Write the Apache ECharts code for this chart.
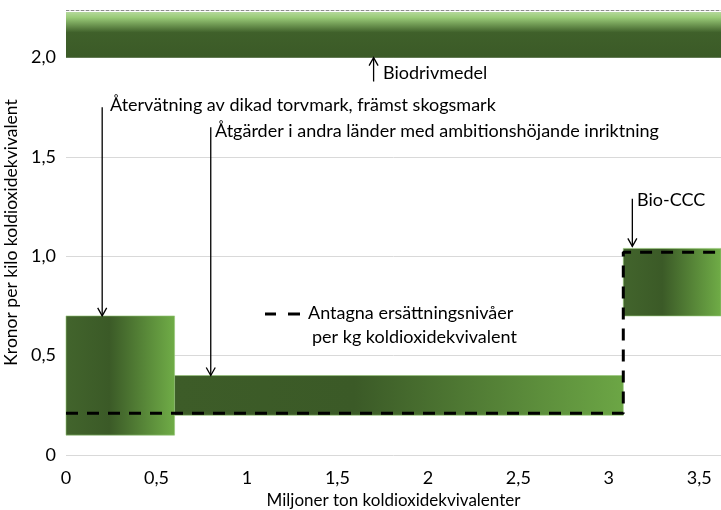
<!DOCTYPE html>
<html><head><meta charset="utf-8">
<script src="https://cdn.jsdelivr.net/npm/echarts@6/dist/echarts.min.js"></script>
<style>html,body{margin:0;padding:0;background:#fff}#c{width:721px;height:510px}</style>
</head><body><div id="c"></div>
<script>
// Data
const blockNames = ['Återvätning av dikad torvmark, främst skogsmark', 'Åtgärder i andra länder med ambitionshöjande inriktning', 'Bio-CCC'];
const blockStart = [0, 0.6, 3.08];
const blockEnd = [0.6, 3.08, 3.62];
const blockLow = [0.1, 0.2, 0.7];
const blockHigh = [0.7, 0.4, 1.04];
const bioStart = 0, bioEnd = 3.62, bioLow = 2.0, bioHigh = 2.23;
const levelX = [0, 3.08, 3.08, 3.62];
const levelY = [0.21, 0.21, 1.02, 1.02];
const xMax = 3.62, yMax = 2.24;
const xTicks = ['0', '0,5', '1', '1,5', '2', '2,5', '3', '3,5'];
const yTicks = ['0', '0,5', '1,0', '1,5', '2,0'];
// arrows: x, y from, y to
const arrowX = [1.70, 0.2, 0.8, 3.13];
const arrowFrom = [1.88, 1.75, 1.65, 1.29];
const arrowTo = [2.0, 0.7, 0.4, 1.05];

const FONT = 'Lato';
const FS = 18;
const chart = echarts.init(document.getElementById('c'));

const blockData = blockStart.map((s, i) => [s, blockEnd[i], blockLow[i], blockHigh[i], i]);
const bioData = [[bioStart, bioEnd, bioLow, bioHigh, -1]];
const arrowData = arrowX.map((x, i) => [x, arrowFrom[i], arrowTo[i]]);

function renderRect(params, api) {
  const p0 = api.coord([api.value(0), api.value(3)]);
  const p1 = api.coord([api.value(1), api.value(2)]);
  const idx = api.value(4);
  let fill;
  if (idx < 0) {
    fill = new echarts.graphic.LinearGradient(0, 0, 0, 1, [
      {offset: 0, color: '#b5d99c'}, {offset: 0.12, color: '#9acb78'},
      {offset: 0.45, color: '#3f602a'}, {offset: 1, color: '#3b5a27'}]);
  } else if (idx === 1) {
    fill = new echarts.graphic.LinearGradient(0, 0, 1, 0, [
      {offset: 0, color: '#3d5c28'}, {offset: 0.4, color: '#3b5a27'}, {offset: 1, color: '#6ca645'}]);
  } else {
    fill = new echarts.graphic.LinearGradient(0, 0, 1, 0, [
      {offset: 0, color: '#42642c'}, {offset: 0.4, color: '#3b5a27'}, {offset: 1, color: '#70ad47'}]);
  }
  return {type: 'rect', shape: {x: p0[0], y: p0[1], width: p1[0] - p0[0], height: p1[1] - p0[1]},
    style: {fill: fill, stroke: idx < 0 ? null : 'rgba(150,200,120,0.6)', lineWidth: 1}};
}

function renderArrow(params, api) {
  const p0 = api.coord([api.value(0), api.value(1)]);
  const p1 = api.coord([api.value(0), api.value(2)]);
  const dir = p1[1] > p0[1] ? 1 : -1;
  return {type: 'group', children: [
    {type: 'line', shape: {x1: p0[0], y1: p0[1], x2: p1[0], y2: p1[1]}, style: {stroke: '#000', lineWidth: 1.3}},
    {type: 'polyline', shape: {points: [[p1[0] - 4.5, p1[1] - dir * 8], [p1[0], p1[1]], [p1[0] + 4.5, p1[1] - dir * 8]]},
      style: {stroke: '#000', lineWidth: 1.3, fill: null}}
  ]};
}

chart.setOption({
  animation: false,
  grid: {left: 66, right: 0, top: 10, bottom: 55, containLabel: false, outerBoundsMode: 'none'},
  xAxis: {type: 'value', min: 0, max: xMax, interval: 0.5,
    axisLine: {show: false}, axisTick: {show: false}, splitLine: {show: false},
    axisLabel: {showMaxLabel: false, fontFamily: FONT, fontSize: FS, color: '#000', margin: 14,
      formatter: v => { const i = Math.round(v / 0.5); return Math.abs(v - i * 0.5) < 1e-6 ? (xTicks[i] || '') : ''; }},
    name: 'Miljoner ton koldioxidekvivalenter', nameLocation: 'middle', nameGap: 33,
    nameTextStyle: {fontFamily: FONT, fontSize: 17, color: '#000'}},
  yAxis: {type: 'value', min: 0, max: yMax, interval: 0.5,
    axisLine: {show: false}, axisTick: {show: false},
    splitLine: {lineStyle: {color: '#d9d9d9', width: 1}},
    axisLabel: {showMaxLabel: false, fontFamily: FONT, fontSize: FS, color: '#000', margin: 10,
      formatter: v => { const i = Math.round(v / 0.5); return Math.abs(v - i * 0.5) < 1e-6 ? (yTicks[i] || '') : ''; }},
    name: 'Kronor per kilo koldioxidekvivalent', nameLocation: 'middle', nameGap: 40,
    nameTextStyle: {fontFamily: FONT, fontSize: 17.5, color: '#000'}},
  series: [
    {type: 'custom', renderItem: renderRect, data: bioData, encode: {x: [0, 1], y: [2, 3]}, z: 2,
      markLine: {silent: true, symbol: 'none', label: {show: false},
        lineStyle: {type: [3, 2], color: '#8c8c8c', width: 1}, data: [{yAxis: yMax}]}},
    {type: 'custom', renderItem: renderRect, data: blockData, encode: {x: [0, 1], y: [2, 3]}, z: 2},
    {type: 'line', data: levelX.map((x, i) => [x, levelY[i]]), symbol: 'none', z: 4,
      lineStyle: {color: '#000', width: 3, type: [12, 9]}},
    {type: 'custom', renderItem: renderArrow, data: arrowData, encode: {x: 0, y: [1, 2]}, z: 5}
  ],
  graphic: [
    {type: 'text', left: 383, top: 64, style: {text: 'Biodrivmedel', font: FS + 'px ' + FONT, fill: '#000'}},
    {type: 'text', left: 110, top: 96, style: {text: blockNames[0], font: FS + 'px ' + FONT, fill: '#000'}},
    {type: 'text', left: 215, top: 122, style: {text: blockNames[1], font: FS + 'px ' + FONT, fill: '#000'}},
    {type: 'text', left: 637, top: 191, style: {text: blockNames[2], font: FS + 'px ' + FONT, fill: '#000'}},
    {type: 'line', shape: {x1: 265, y1: 314, x2: 276, y2: 314}, style: {stroke: '#000', lineWidth: 3}},
    {type: 'line', shape: {x1: 288, y1: 314, x2: 300, y2: 314}, style: {stroke: '#000', lineWidth: 3}},
    {type: 'text', left: 308, top: 304, style: {text: 'Antagna ersättningsnivåer', font: FS + 'px ' + FONT, fill: '#000'}},
    {type: 'text', left: 312, top: 328, style: {text: 'per kg koldioxidekvivalent', font: FS + 'px ' + FONT, fill: '#000'}}
  ]
});
</script></body></html>
